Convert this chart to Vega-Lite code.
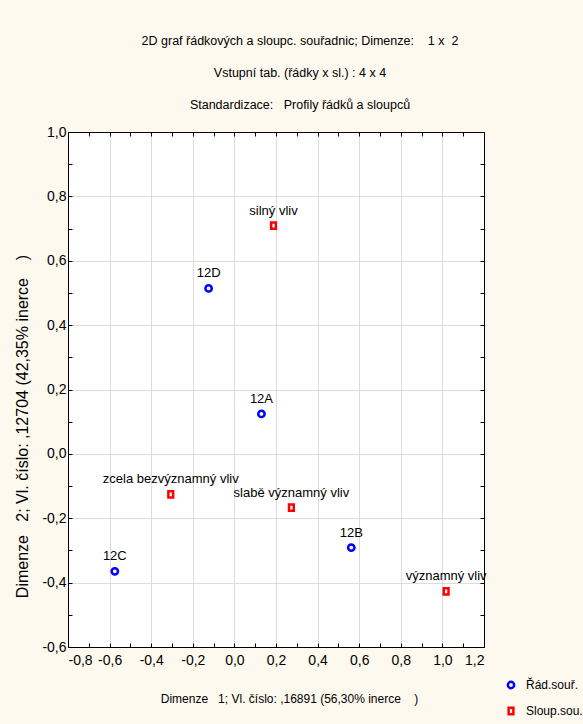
{
  "$schema": "https://vega.github.io/schema/vega-lite/v6.json",
  "width": 416,
  "height": 515,
  "autosize": {"type": "none"},
  "padding": {"left": 68, "top": 132, "right": 99, "bottom": 77},
  "background": "#FDF9EF",
  "config": {
    "view": {"fill": "white", "stroke": "#000000", "strokeWidth": 1},
    "font": "Liberation Sans",
    "axis": {
      "labelFont": "Liberation Sans",
      "labelFontSize": 14,
      "labelColor": "#000000",
      "labelOverlap": false,
      "domainColor": "#000000",
      "tickColor": "#000000",
      "tickSize": -4,
      "gridColor": "#dcdcdc",
      "gridOpacity": {"condition": {"test": "round(datum.value*10) % 2 != 0", "value": 0}, "value": 1},
      "labelExpr": "round(datum.value*10) % 2 == 0 ? replace(replace(format(datum.value, '.1f'), '.', ','), '\u2212', '-') : ''"
    }
  },
  "title": {
    "text": [
      "2D graf řádkových a sloupc. souřadnic; Dimenze:\u00a0\u00a0\u00a0\u00a01 x\u00a0\u00a02",
      "Vstupní tab. (řádky x sl.) : 4 x 4",
      "Standardizace:\u00a0\u00a0\u00a0Profily řádků a sloupců"
    ],
    "font": "Liberation Sans",
    "fontSize": 12.5,
    "fontWeight": "normal",
    "color": "#000000",
    "lineHeight": 32,
    "anchor": "middle",
    "dx": 24,
    "offset": 14
  },
  "data": {
    "values": [
      {"label": "12A", "x": 0.130, "y": 0.124, "typ": "Řád.souř."},
      {"label": "12B", "x": 0.562, "y": -0.291, "typ": "Řád.souř."},
      {"label": "12C", "x": -0.575, "y": -0.365, "typ": "Řád.souř."},
      {"label": "12D", "x": -0.124, "y": 0.514, "typ": "Řád.souř."},
      {"label": "zcela bezvýznamný vliv", "x": -0.306, "y": -0.126, "typ": "Sloup.sou."},
      {"label": "slabě významný vliv", "x": 0.274, "y": -0.167, "typ": "Sloup.sou."},
      {"label": "významný vliv", "x": 1.018, "y": -0.427, "typ": "Sloup.sou."},
      {"label": "silný vliv", "x": 0.188, "y": 0.709, "typ": "Sloup.sou."}
    ]
  },
  "resolve": {"axis": {"x": "independent", "y": "independent"}},
  "layer": [
    {
      "mark": {"type": "point", "filled": false, "strokeWidth": 2.5, "size": 40, "opacity": 1},
      "encoding": {
        "x": {
          "field": "x", "type": "quantitative",
          "scale": {"domain": [-0.8, 1.2], "nice": false, "zero": false},
          "axis": {
            "orient": "bottom",
            "values": [-0.8,-0.7,-0.6,-0.5,-0.4,-0.3,-0.2,-0.1,0,0.1,0.2,0.3,0.4,0.5,0.6,0.7,0.8,0.9,1.0,1.1,1.2],
            "labelPadding": 10,
            "title": "Dimenze\u00a0\u00a0\u00a01; Vl. číslo: ,16891 (56,30% inerce\u00a0\u00a0\u00a0\u00a0)",
            "titleFont": "Liberation Sans",
            "titleFontSize": 12,
            "titleFontWeight": "normal",
            "titleColor": "#000000",
            "titleX": 221,
            "titleY": 51,
            "titleBaseline": "middle",
            "titleAnchor": "middle"
          }
        },
        "y": {
          "field": "y", "type": "quantitative",
          "scale": {"domain": [-0.6, 1.0], "nice": false, "zero": false},
          "axis": {
            "orient": "left",
            "values": [-0.6,-0.5,-0.4,-0.3,-0.2,-0.1,0,0.1,0.2,0.3,0.4,0.5,0.6,0.7,0.8,0.9,1.0],
            "labelPadding": 6,
            "title": "Dimenze\u00a0\u00a0\u00a02; Vl. číslo: ,12704 (42,35% inerce\u00a0\u00a0\u00a0\u00a0)",
            "titleFont": "Liberation Sans",
            "titleFontSize": 16,
            "titleFontWeight": "normal",
            "titleColor": "#000000",
            "titleAngle": -90,
            "titleX": -46,
            "titleY": 294,
            "titleBaseline": "middle",
            "titleAlign": "center",
            "titleAnchor": "middle"
          }
        },
        "color": {
          "field": "typ", "type": "nominal",
          "scale": {"domain": ["Řád.souř.", "Sloup.sou."], "range": ["#0000FF", "#FF0000"]},
          "legend": {
            "title": null,
            "orient": "none",
            "legendX": 437,
            "legendY": 547,
            "labelFont": "Liberation Sans",
            "labelFontSize": 12,
            "labelColor": "#000000",
            "symbolStrokeWidth": 2.5,
            "symbolSize": 40,
            "symbolFillColor": "transparent",
            "rowPadding": 8,
            "labelOffset": 9
          }
        },
        "shape": {
          "field": "typ", "type": "nominal",
          "scale": {"domain": ["Řád.souř.", "Sloup.sou."], "range": ["circle", "M-0.75,-1L0.75,-1L0.75,1L-0.75,1Z"]},
          "legend": null
        }
      }
    },
    {
      "mark": {"type": "text", "font": "Liberation Sans", "fontSize": 13, "baseline": "alphabetic", "dy": -11, "color": "#000000"},
      "encoding": {
        "x": {
          "field": "x", "type": "quantitative",
          "scale": {"domain": [-0.8, 1.2], "nice": false, "zero": false},
          "axis": {
            "orient": "top",
            "values": [-0.8,-0.7,-0.6,-0.5,-0.4,-0.3,-0.2,-0.1,0,0.1,0.2,0.3,0.4,0.5,0.6,0.7,0.8,0.9,1.0,1.1,1.2],
            "labels": false, "grid": false, "title": null
          }
        },
        "y": {
          "field": "y", "type": "quantitative",
          "scale": {"domain": [-0.6, 1.0], "nice": false, "zero": false},
          "axis": {
            "orient": "right",
            "values": [-0.6,-0.5,-0.4,-0.3,-0.2,-0.1,0,0.1,0.2,0.3,0.4,0.5,0.6,0.7,0.8,0.9,1.0],
            "labels": false, "grid": false, "title": null
          }
        },
        "text": {"field": "label", "type": "nominal"}
      }
    }
  ]
}
